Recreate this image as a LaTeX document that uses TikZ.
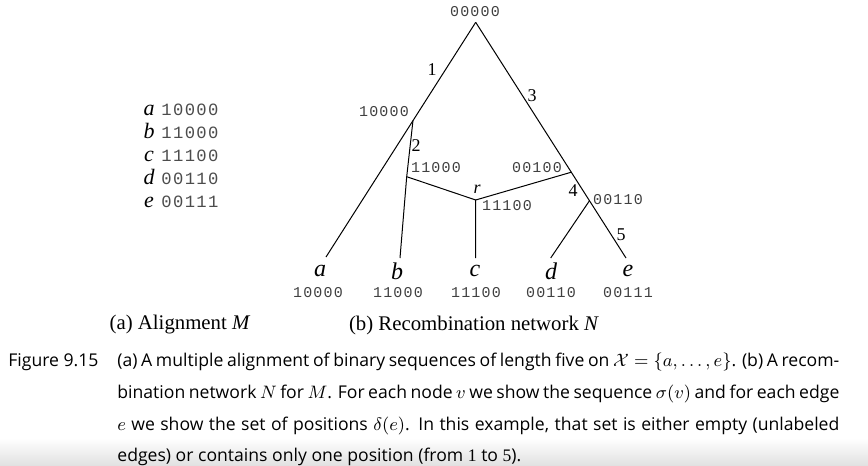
\documentclass[tikz,border=0pt]{standalone}
\usepackage{fontspec}
\setmainfont{Liberation Serif}
\newfontfamily\seqfont[LetterSpace=8]{Liberation Mono}
\newfontfamily\capfont{Open Sans}
\usetikzlibrary{positioning,calc}

\newcommand{\capfill}[1]{\makebox[361pt][s]{\thickmuskip=5mu\medmuskip=4mu #1}}

\tikzset{
  seq/.style={font=\seqfont\fontsize{7.5}{9}\selectfont, text=black!75, inner sep=1pt},
  listseq/.style={font=\seqfont\fontsize{8.6}{10}\selectfont, text=black!70, inner sep=0pt},
  taxon/.style={font=\fontsize{12}{14}\selectfont\itshape, inner sep=0pt},
  listtaxon/.style={font=\fontsize{11}{12}\selectfont\itshape, inner sep=0pt, anchor=base},
  poslabel/.style={font=\fontsize{9}{10}\selectfont, inner sep=1pt},
  net/.style={line width=0.5pt},
  subcap/.style={font=\fontsize{10.4}{12}\selectfont, inner sep=1pt},
  capline/.style={anchor=base west, inner sep=0pt, font=\capfont\fontsize{8.8}{12}\selectfont, text=black},
}

\begin{document}
\begin{tikzpicture}[x=0.5pt,y=-0.5pt]
    \useasboundingbox (0,0) rectangle (868,466);
    \shade[top color=white, bottom color=black!12] (0,438) rectangle (868,466); % page shadow

    % alignment M
    \node[listtaxon] (ta) at (149,115) {a};
    \node[listtaxon] (tb) at (149,138) {b};
    \node[listtaxon] (tc) at (149,161) {c};
    \node[listtaxon] (td) at (149,184) {d};
    \node[listtaxon] (te) at (149,207) {e};
    \node[listseq, anchor=base west] (sa) at (161,115) {10000};
    \node[listseq, anchor=base west] (sb) at (161,138) {11000};
    \node[listseq, anchor=base west] (sc) at (161,161) {11100};
    \node[listseq, anchor=base west] (sd) at (161,184) {00110};
    \node[listseq, anchor=base west] (se) at (161,207) {00111};

    % network N
    \coordinate (root) at (475.7,22.3);
    \coordinate (a) at (326,257);
    \coordinate (b) at (400,258);
    \coordinate (c) at (475.7,258);
    \coordinate (d) at (550.7,258);
    \coordinate (e) at (626,258);
    \coordinate (v1) at ($(root)!0.419!(a)$);
    \coordinate (v2) at (406.7,176.7);
    \coordinate (r) at (475.7,200);
    \coordinate (v3) at ($(root)!0.636!(e)$);
    \coordinate (v4) at ($(root)!0.757!(e)$);

    \draw[net] (root) -- (v1) -- (a);
    \draw[net] (v1) -- (v2) -- (b);
    \draw[net] (v2) -- (r) -- (c);
    \draw[net] (root) -- (v3) -- (v4) -- (e);
    \draw[net] (v3) -- (r);
    \draw[net] (v4) -- (d);

    % sequences sigma(v)
    \node[seq] (s00000) at (475,12) {00000};
    \node[seq] (s10000) at (384,112) {10000};
    \node[seq] (s11000) at (436,168) {11000};
    \node[seq] (s00100) at (537,168) {00100};
    \node[seq] (s11100) at (507,206) {11100};
    \node[seq] (s00110) at (618,200) {00110};
    \node[font=\fontsize{9}{10}\selectfont\itshape, inner sep=1pt] (lr) at (477,189) {r};

    % positions delta(e)
    \node[poslabel] (p1) at (432,70) {1};
    \node[poslabel] (p2) at (416,146) {2};
    \node[poslabel] (p3) at (532,96) {3};
    \node[poslabel] (p4) at (573,191) {4};
    \node[poslabel] (p5) at (621,235) {5};

    % leaves
    \node[taxon] (la) at (320,271) {a};
    \node[taxon] (lb) at (397,271) {b};
    \node[taxon] (lc) at (475,271) {c};
    \node[taxon] (ld) at (551,271) {d};
    \node[taxon] (le) at (628,271) {e};
    \node[seq] (qa) at (318,293) {10000};
    \node[seq] (qb) at (398,293) {11000};
    \node[seq] (qc) at (476,293) {11100};
    \node[seq] (qd) at (551,293) {00110};
    \node[seq] (qe) at (628,293) {00111};

    % subcaptions
    \node[subcap] (capa) at (180,325) {(a) Alignment \textit{M}};
    \node[subcap] (capb) at (474,325) {(b) Recombination network \textit{N}};

    % caption
    \node[capline] (fig) at (8,366) {Figure 9.15};
    \node[capline] (cap1) at (117,366) {\capfill{(a) A multiple alignment of binary sequences of length five on $\mathcal{X}=\{a,\ldots,e\}$. (b) A recom-}};
    \node[capline] (cap2) at (117,398) {\capfill{bination network $N$ for $M$. For each node $v$ we show the sequence $\sigma(v)$ and for each edge}};
    \node[capline] (cap3) at (117,430) {\capfill{$e$ we show the set of positions $\delta(e)$. In this example, that set is either empty (unlabeled}};
    \node[capline] (cap4) at (117,461) {edges) or contains only one position (from {\rmfamily 1} to {\rmfamily 5}).};
\end{tikzpicture}
\end{document}
